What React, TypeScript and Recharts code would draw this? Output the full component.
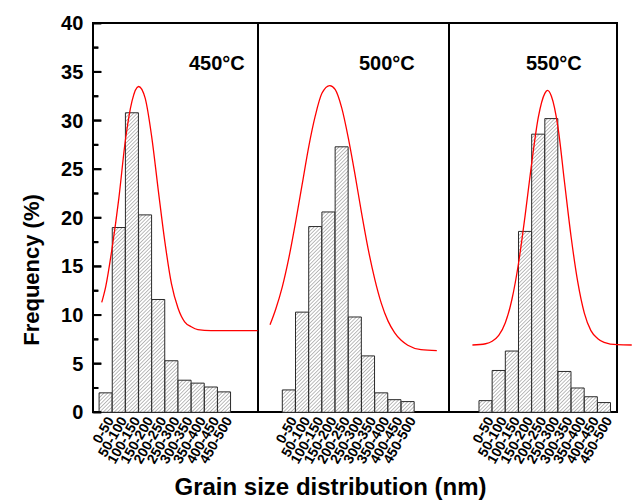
import { ComposedChart, Bar, Line, XAxis, YAxis, ReferenceLine } from "recharts";

const bins = ["0-50", "50-100", "100-150", "150-200", "200-250", "250-300", "300-350", "350-400", "400-450", "450-500"];
// major ticks every 5 (labelled), minor ticks halfway
const yTicks = [0, 2.5, 5, 7.5, 10, 12.5, 15, 17.5, 20, 22.5, 25, 27.5, 30, 32.5, 35, 37.5, 40];

const freq450 = [2.0, 19.0, 30.8, 20.3, 11.6, 5.3, 3.3, 3.0, 2.6, 2.1];
const freq500 = [2.3, 10.3, 19.1, 20.6, 27.3, 9.8, 5.8, 2.0, 1.3, 1.1];
const freq550 = [1.2, 4.3, 6.3, 18.6, 28.6, 30.2, 4.2, 2.5, 1.6, 1.0];

// fitted curves, x in bin-index units
const fit450X = [-0.3, 0, 0.5, 1, 1.5, 2, 2.5, 3, 3.5, 4, 4.5, 5, 5.5, 6, 6.5, 7, 8, 9, 10, 11.55];
const fit450Y = [11.3, 12.9, 17.0, 22.0, 28.0, 32.0, 33.5, 32.3, 28.3, 22.8, 17.5, 13.2, 10.7, 9.3, 8.8, 8.5, 8.4, 8.4, 8.4, 8.4];
const fit500X = [-1.43, -1, -0.5, 0, 0.5, 1, 1.5, 2, 2.5, 3.1, 3.5, 4, 4.5, 5, 5.5, 6, 6.5, 7, 7.5, 8, 8.5, 9, 10, 11.2];
const fit500Y = [9.0, 10.6, 12.9, 15.9, 19.5, 23.4, 27.3, 30.5, 32.8, 33.6, 33.2, 31.3, 28.2, 24.5, 20.5, 16.8, 13.7, 11.2, 9.4, 8.2, 7.4, 6.9, 6.45, 6.35];
const fit550X = [-1.0, 0, 0.5, 1, 1.5, 2, 2.5, 3, 3.5, 4, 4.5, 4.7, 5, 5.5, 6, 6.5, 7, 7.5, 8, 8.5, 9, 10, 11.1];
const fit550Y = [6.92, 7.05, 7.3, 7.9, 9.2, 11.6, 15.3, 20.2, 25.6, 30.3, 32.8, 33.1, 32.5, 29.3, 23.6, 18.0, 13.4, 10.2, 8.4, 7.6, 7.2, 6.95, 6.92];

const FONT = "'Liberation Sans', Arial, sans-serif";
const W = 635;
const H = 501;
const TOP = 23.3;
const XAXIS_H = 88.7;
const Y_MARGIN = 10;
const UNIT_PX = 13.16; // pixels per bin on the x scale
const MAJOR_LEN = 8 / UNIT_PX;
const MINOR_LEN = 5 / UNIT_PX;

type PanelProps = {
  id: string;
  values: number[];
  fitX: number[];
  fitY: number[];
  domain: [number, number];
  left: number;
  right: number;
  showY?: boolean;
};

// label plus an inward tick mark (long for majors, short for minors)
const YTick = (p: any) => {
  const v = Number(p.payload.value);
  const major = v % 5 === 0;
  const tx = Number(p.x);
  const ty = Number(p.y);
  return (
    <g>
      <rect x={tx + Y_MARGIN - 1} y={ty - 1} width={major ? 9 : 6} height={2} fill="#000" />
      {major && (
        <text x={tx} y={ty} dy="0.35em" textAnchor="end" fontSize={20} fontWeight="bold" fill="#000" fontFamily={FONT}>
          {v}
        </text>
      )}
    </g>
  );
};

function Panel({ id, values, fitX, fitY, domain, left, right, showY }: PanelProps) {
  const data = bins.map((b, i) => ({ x: i, bin: b, freq: values[i] }));
  const curve = fitX.map((x, i) => ({ x, v: fitY[i] }));
  return (
    <div style={{ position: "absolute", left: 0, top: 0, pointerEvents: "none" }}>
      <ComposedChart
        width={W}
        height={H}
        data={data}
        barCategoryGap={0}
        margin={{ top: TOP, bottom: 0, left: showY ? 0 : left, right }}
      >
        <defs>
          <pattern id={"hatch" + id} width="2.6" height="2.6" patternUnits="userSpaceOnUse" patternTransform="rotate(45)">
            <rect width="2.6" height="2.6" fill="#ffffff" />
            <line x1="0" y1="0" x2="0" y2="2.6" stroke="#6a6a6a" strokeWidth={0.9} />
          </pattern>
        </defs>
        <XAxis
          xAxisId="bins"
          type="number"
          dataKey="x"
          domain={domain}
          allowDataOverflow
          ticks={bins.map((_, i) => i)}
          interval={0}
          tickFormatter={(v) => bins[v]}
          axisLine={false}
          tickLine={false}
          tickSize={0}
          tickMargin={3}
          angle={-60}
          textAnchor="end"
          height={XAXIS_H}
          tick={{ fontSize: 14, fontWeight: "bold", fill: "#000", fontFamily: FONT }}
        />
        <XAxis xAxisId="fit" type="number" dataKey="x" domain={domain} allowDataOverflow hide />
        {showY ? (
          <YAxis
            yAxisId={0}
            type="number"
            domain={[0, 40]}
            ticks={yTicks}
            interval={0}
            width={left}
            axisLine={false}
            tickLine={false}
            tickSize={0}
            tickMargin={Y_MARGIN}
            tick={YTick}
          />
        ) : (
          <YAxis yAxisId={0} type="number" domain={[0, 40]} hide />
        )}
        <Bar
          xAxisId="bins"
          yAxisId={0}
          dataKey="freq"
          fill={"url(#hatch" + id + ")"}
          stroke="#2a2a2a"
          strokeWidth={1}
          isAnimationActive={false}
        />
        {showY &&
          yTicks.map((v) => (
            <ReferenceLine
              key={"t" + v}
              xAxisId="fit"
              yAxisId={0}
              ifOverflow="visible"
              segment={[
                { x: domain[0], y: v },
                { x: domain[0] + (v % 5 === 0 ? MAJOR_LEN : MINOR_LEN), y: v },
              ]}
              stroke="#000"
              strokeWidth={2}
            />
          ))}
        <Line
          xAxisId="fit"
          yAxisId={0}
          data={curve}
          dataKey="v"
          type="monotone"
          stroke="#ff0000"
          strokeWidth={1.3}
          dot={false}
          activeDot={false}
          isAnimationActive={false}
        />
      </ComposedChart>
    </div>
  );
}

const tempStyle: React.CSSProperties = {
  position: "absolute",
  top: 53,
  fontFamily: FONT,
  fontWeight: "bold",
  fontSize: 20,
  lineHeight: "20px",
  whiteSpace: "nowrap",
};

export default function App() {
  return (
    <div style={{ position: "absolute", left: 0, top: 0, width: W, height: H, background: "#fff" }}>
      <div style={{ position: "absolute", left: 92.3, top: 22.3, width: 525.4, height: 391, border: "2px solid #000", boxSizing: "border-box" }} />
      <div style={{ position: "absolute", left: 256.7, top: 22.3, width: 2, height: 391, background: "#000" }} />
      <div style={{ position: "absolute", left: 447.7, top: 22.3, width: 2, height: 391, background: "#000" }} />

      <Panel id="c" values={freq550} fitX={fit550X} fitY={fit550Y} domain={[-2.8, 11.12]} left={448.7} right={3} />
      <Panel id="b" values={freq500} fitX={fit500X} fitY={fit500Y} domain={[-2.34, 12.1]} left={258} right={W - 448.7} />
      <Panel id="a" values={freq450} fitX={fit450X} fitY={fit450Y} domain={[-0.94, 11.55]} left={93.3} right={W - 257.7} showY />

      <div style={{ ...tempStyle, left: 189 }}>450°C</div>
      <div style={{ ...tempStyle, left: 359 }}>500°C</div>
      <div style={{ ...tempStyle, left: 526 }}>550°C</div>

      <div
        style={{
          position: "absolute",
          left: 32,
          top: 270,
          transform: "translate(-50%, -50%) rotate(-90deg)",
          fontFamily: FONT,
          fontWeight: "bold",
          fontSize: 22,
          whiteSpace: "nowrap",
        }}
      >
        Frequency (%)
      </div>
      <div
        style={{
          position: "absolute",
          left: 330.5,
          top: 487,
          transform: "translate(-50%, -50%)",
          fontFamily: FONT,
          fontWeight: "bold",
          fontSize: 24,
          whiteSpace: "nowrap",
        }}
      >
        Grain size distribution (nm)
      </div>
    </div>
  );
}
